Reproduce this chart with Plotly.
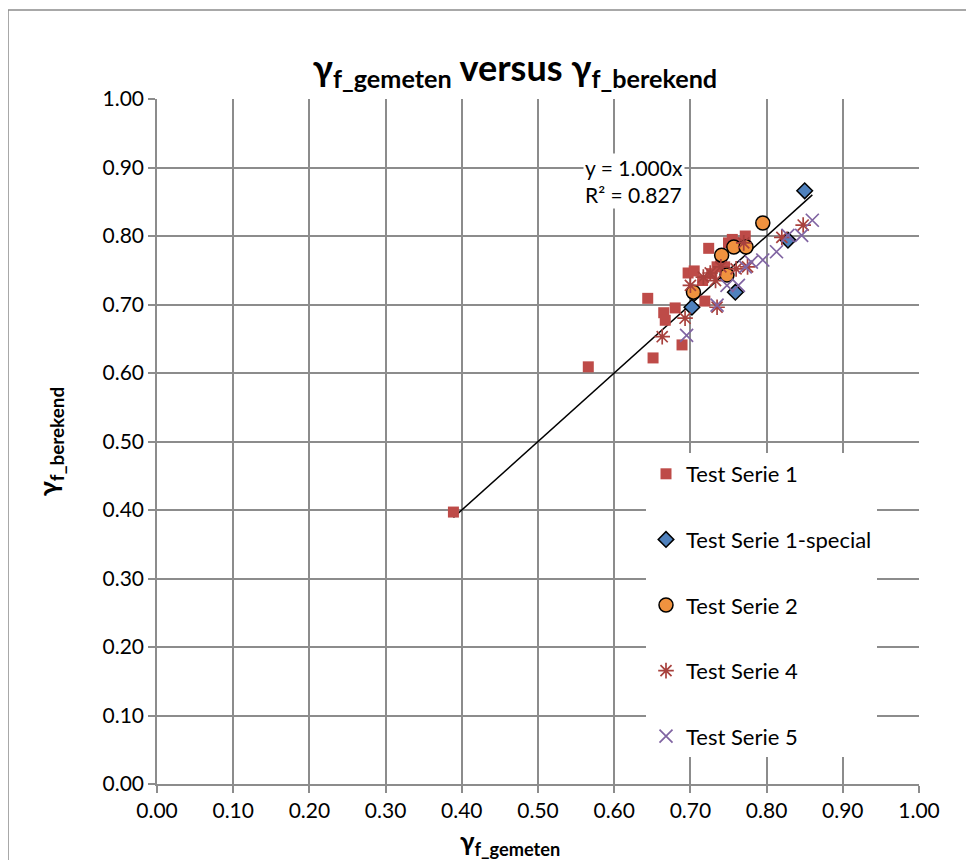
import plotly.graph_objects as go

# Data
s1_x = [0.389, 0.566, 0.644, 0.651, 0.665, 0.667, 0.680, 0.689, 0.697, 0.705, 0.719, 0.724,
        0.716, 0.728, 0.735, 0.745, 0.740, 0.750, 0.755, 0.765, 0.772]
s1_y = [0.397, 0.609, 0.709, 0.622, 0.688, 0.677, 0.695, 0.641, 0.746, 0.749, 0.705, 0.782,
        0.735, 0.745, 0.755, 0.755, 0.760, 0.790, 0.795, 0.790, 0.800]

sp_x = [0.702, 0.759, 0.828, 0.850]
sp_y = [0.696, 0.718, 0.794, 0.866]

s2_x = [0.704, 0.741, 0.748, 0.757, 0.773, 0.795]
s2_y = [0.718, 0.772, 0.743, 0.784, 0.784, 0.819]

s4_x = [0.663, 0.693, 0.700, 0.717, 0.726, 0.735, 0.733, 0.740, 0.760, 0.775, 0.770, 0.820, 0.848]
s4_y = [0.653, 0.680, 0.728, 0.740, 0.746, 0.696, 0.735, 0.755, 0.752, 0.755, 0.790, 0.798, 0.816]

s5_x = [0.695, 0.735, 0.748, 0.763, 0.772, 0.780, 0.795, 0.813, 0.828, 0.846, 0.860]
s5_y = [0.655, 0.699, 0.728, 0.728, 0.755, 0.762, 0.765, 0.777, 0.801, 0.801, 0.823]

tick_vals = [i / 10 for i in range(11)]
tick_text = ["%.2f" % v for v in tick_vals]

slope = 1.000
all_x = s1_x + sp_x + s2_x + s4_x + s5_x
trend_x = [min(all_x), max(all_x)]
trend_y = [slope * v for v in trend_x]

FONT = "Lato"
L, T, PW, PH = 149, 91, 762, 685

def px(xf):
    return (xf - L) / PW

def py(yf):
    return (T + PH - yf) / PH

fig = go.Figure()

fig.add_trace(go.Scatter(x=trend_x, y=trend_y, mode="lines",
                         line=dict(color="black", width=1.5), showlegend=False, hoverinfo="skip"))

fig.add_trace(go.Scatter(x=s1_x, y=s1_y, mode="markers", name="Test Serie 1", legendgroup="a",
                         marker=dict(symbol="square", size=11, color="#BE4B48", line=dict(width=0))))
fig.add_trace(go.Scatter(x=sp_x, y=sp_y, mode="markers", name="Test Serie 1-special", legendgroup="b",
                         marker=dict(symbol="diamond", size=12, color="#4F81BD", line=dict(width=1.5, color="black"))))
fig.add_trace(go.Scatter(x=s2_x, y=s2_y, mode="markers", name="Test Serie 2", legendgroup="c",
                         marker=dict(symbol="circle", size=14, color="#F0923F", line=dict(width=1.5, color="black"))))
fig.add_trace(go.Scatter(x=s4_x, y=s4_y, mode="markers", name="Test Serie 4", legendgroup="d",
                         marker=dict(symbol="asterisk-open", size=13, color="#A8413D", line=dict(width=1.7, color="#A8413D"))))
fig.add_trace(go.Scatter(x=s5_x, y=s5_y, mode="markers", name="Test Serie 5", legendgroup="e",
                         marker=dict(symbol="x-thin-open", size=13, color="#8064A2", line=dict(width=1.7, color="#8064A2"))))

axis_common = dict(range=[0, 1], tickvals=tick_vals, ticktext=tick_text,
                   showgrid=True, gridcolor="#8C8C8C", gridwidth=1.5,
                   showline=True, linecolor="#8C8C8C", linewidth=1.5,
                   ticks="outside", ticklen=7, tickcolor="#8C8C8C", tickwidth=1.5,
                   tickfont=dict(family=FONT, size=21, color="black"),
                   zeroline=False, mirror=False, fixedrange=True)

fig.update_layout(
    width=974, height=860,
    margin=dict(l=L, r=974 - L - PW, t=T, b=860 - T - PH),
    paper_bgcolor="white", plot_bgcolor="white",
    font=dict(family=FONT, color="black"),
    title=dict(text="<b>γ<sub>f_gemeten</sub> versus γ<sub>f_berekend</sub></b>",
               x=(507 / 974), xanchor="center", y=1 - 60 / 860, yanchor="middle",
               font=dict(family=FONT, size=36, color="black")),
    xaxis=dict(**axis_common),
    yaxis=dict(**axis_common,
               title=dict(text="<b>γ<sub>f_berekend</sub></b>", standoff=36,
                          font=dict(family=FONT, size=27, color="black"))),
    legend=dict(x=px(638), y=py(445), xanchor="left", yanchor="top",
                bgcolor="white", borderwidth=0, tracegroupgap=34,
                font=dict(family=FONT, size=22, color="black")),
    showlegend=True,
)

# x-axis title (placed slightly left of centre, as in the reference)
fig.add_annotation(x=px(502), y=py(834), xref="paper", yref="paper",
                   text="<b>γ<sub>f_gemeten</sub></b>", showarrow=False,
                   xanchor="center", yanchor="middle",
                   font=dict(family=FONT, size=26, color="black"))

fig.add_annotation(x=px(575), y=py(173), xref="paper", yref="paper",
                   text="y = 1.000x<br>R² = 0.827", showarrow=False, align="left",
                   xanchor="left", yanchor="middle", bgcolor="white",
                   font=dict(family=FONT, size=21, color="black"))

# white area behind the legend (covers gridlines)
fig.add_shape(type="rect", xref="paper", yref="paper",
              x0=px(635), x1=px(894), y0=py(764), y1=py(437),
              line=dict(width=0), fillcolor="white", layer="between")

# Outer chart border
fig.add_shape(type="rect", xref="paper", yref="paper",
              x0=px(0), x1=px(990),
              y0=py(880), y1=py(2),
              line=dict(color="#8C8C8C", width=1.5), fillcolor="rgba(0,0,0,0)", layer="below")

fig.write_html("out.html")
